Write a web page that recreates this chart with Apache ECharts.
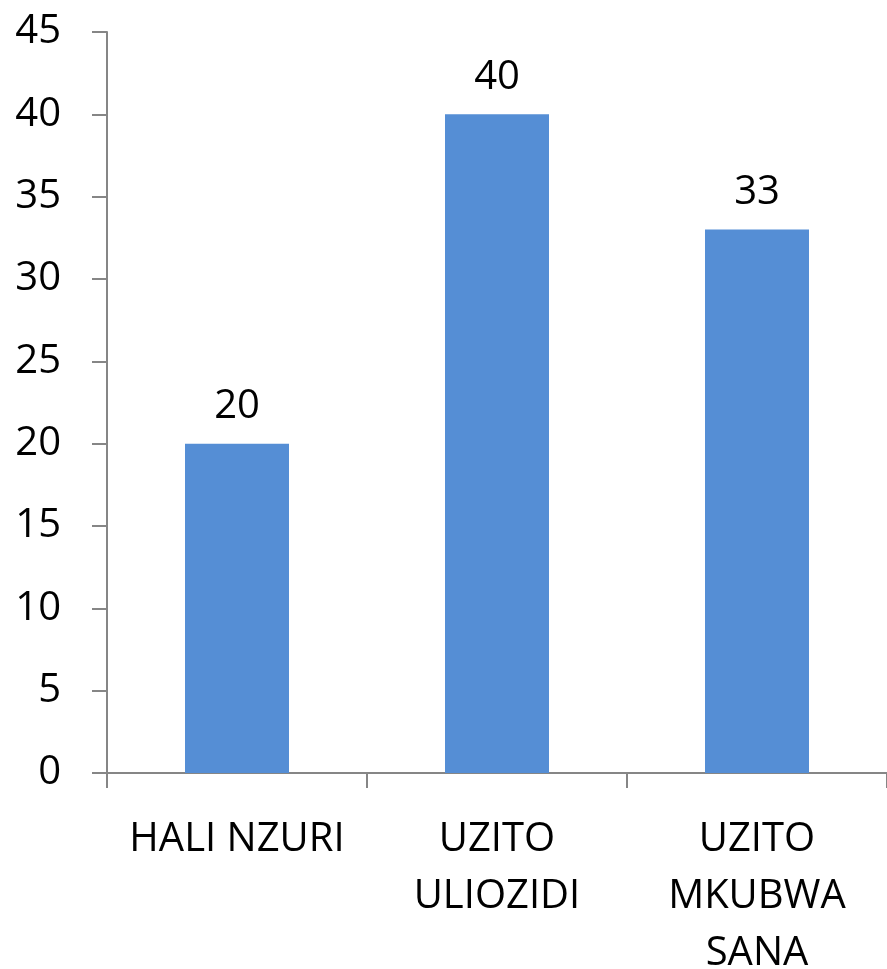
<!DOCTYPE html>
<html>
<head>
<meta charset="utf-8">
<script src="https://cdn.jsdelivr.net/npm/echarts@6/dist/echarts.min.js"></script>
<style>
	html, body { margin: 0; padding: 0; background: #fff; }
	#chart { width: 887px; height: 969px; }
</style>
</head>
<body>
<div id="chart"></div>
<script>
// data
var categories = ['HALI NZURI', 'UZITO\nULIOZIDI', 'UZITO\nMKUBWA\nSANA'];
var values = [20, 40, 33];
var yMin = 0, yMax = 45, yStep = 5;

var axisGray = '#868686';
var font = 'Open Sans';

var myChart = echarts.init(document.getElementById('chart'));
var option = {
	animation: false,
	grid: {
		left: 107, right: 0, top: 32, bottom: 196,
		containLabel: false, outerBoundsMode: 'none'
	},
	xAxis: {
		type: 'category',
		data: categories,
		axisLine: { lineStyle: { color: axisGray, width: 2 } },
		axisTick: { show: true, length: 15, lineStyle: { color: axisGray, width: 2 } },
		axisLabel: {
			color: '#000', fontFamily: font, fontSize: 40,
			lineHeight: 57, margin: 38, interval: 0
		}
	},
	yAxis: {
		type: 'value',
		min: yMin, max: yMax, interval: yStep,
		splitLine: { show: false },
		axisLine: { show: true, lineStyle: { color: axisGray, width: 2 } },
		axisTick: { show: true, length: 15, lineStyle: { color: axisGray, width: 2 } },
		axisLabel: { color: '#000', fontFamily: font, fontSize: 40, margin: 46 }
	},
	series: [{
		type: 'bar',
		data: values,
		barWidth: '40%',
		itemStyle: { color: '#558ED5' },
		label: {
			show: true, position: 'top', distance: 17,
			color: '#000', fontFamily: font, fontSize: 40
		}
	}]
};
myChart.setOption(option);
</script>
</body>
</html>
